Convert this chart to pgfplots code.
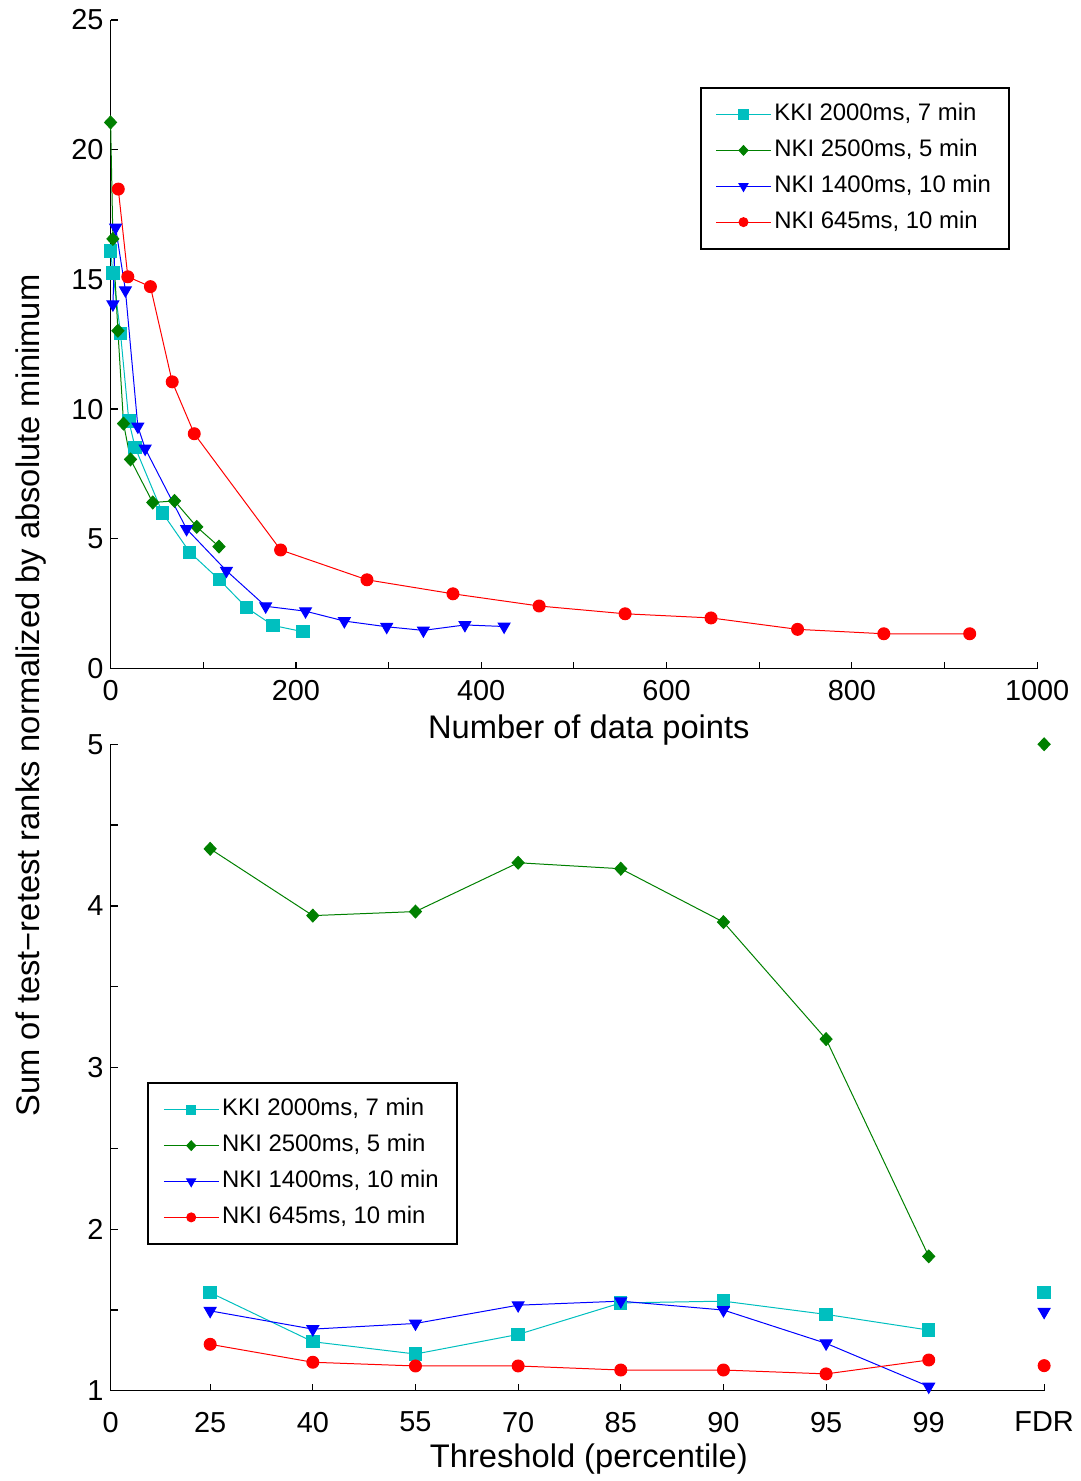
\documentclass[border=0pt]{standalone}
\usepackage{fontspec}
\setmainfont{Liberation Sans}
\usepackage{pgfplots}
\pgfplotsset{compat=1.18}
\definecolor{mcyan}{rgb}{0,0.75,0.75}
\definecolor{mgreen}{rgb}{0,0.5,0}
\definecolor{mblue}{rgb}{0,0,1}
\definecolor{mred}{rgb}{1,0,0}
\pgfplotsset{
  common/.style={
    scale only axis,
    axis x line*=bottom, axis y line*=left,
    axis line style={black, line width=0.6pt, -},
    tick align=inside,
    major tick length=3.5pt,
    tick style={black, line width=0.6pt},
    tick label style={font=\fontsize{14.5}{17}\selectfont},
    /pgf/number format/assume math mode=true,
    clip=false,
    legend style={draw=black, line width=0.9pt, fill=white,
      font=\fontsize{12}{14}\selectfont, inner xsep=7.5pt, inner ysep=6pt,
      row sep=3pt, nodes={text height=9pt, text depth=3pt, inner sep=1.5pt},
      every odd column/.append style={inner xsep=2.5pt}},
    legend cell align=left,
    legend image code/.code={\draw[mark repeat=2, mark phase=2, #1, line width=0.5pt, mark size=0.75*\pgfplotmarksize] plot coordinates {(0pt,0pt) (13.75pt,0pt) (27.5pt,0pt)};},
    every axis plot/.append style={line width=0.5pt},
  },
  kki/.style={color=mcyan, mark=square*, mark size=3.1pt},
  nkiA/.style={color=mgreen, mark=diamond*, mark size=3.2pt, mark options={xscale=1.25}},
  nkiB/.style={color=mblue, mark=triangle*, mark size=3.4pt, mark options={rotate=180}},
  nkiC/.style={color=mred, mark=*, mark size=3pt},
}
\begin{document}
\begin{tikzpicture}
\begin{axis}[common,
  at={(0pt,0pt)}, anchor=south west,
  width=465pt, height=325.5pt,
  xmin=0, xmax=1000, ymin=0, ymax=25,
  xtick={0,100,...,1000},
  xticklabels={0,,200,,400,,600,,800,,1000},
  ytick={0,5,...,25},
  x tick label style={yshift=-2.5pt},
  legend style={at={(0.9705,0.897)}, anchor=north east},
]
\addplot[kki] coordinates {(0,16.1) (2.5,15.25) (10.7,12.92) (19.7,9.54) (26.5,8.52) (56,6.0) (85.5,4.48) (117.5,3.42) (146.6,2.35) (175.3,1.66) (207.5,1.42)};
\addlegendentry{KKI 2000ms, 7 min}
\addplot[nkiA] coordinates {(0,21.05) (2.5,16.56) (7.9,13.02) (14,9.44) (21.5,8.06) (45.5,6.40) (69,6.46) (93,5.46) (117,4.70)};
\addlegendentry{NKI 2500ms, 5 min}
\addplot[nkiB] coordinates {(2.5,14.04) (5.4,17.0) (16,14.58) (29.4,9.33) (37.3,8.48) (82,5.38) (125,3.77) (167.4,2.40) (210.4,2.21) (252.3,1.83) (298,1.61) (337.6,1.47) (382.4,1.68) (424.7,1.62)};
\addlegendentry{NKI 1400ms, 10 min}
\addplot[nkiC] coordinates {(8.3,18.48) (18.6,15.1) (43,14.72) (66.5,11.05) (90.3,9.05) (183.5,4.57) (276.7,3.42) (369.5,2.88) (462.5,2.41) (555.3,2.11) (648,1.95) (741.4,1.51) (834.5,1.34) (927.2,1.34)};
\addlegendentry{NKI 645ms, 10 min}
\end{axis}
\begin{axis}[common,
  at={(0pt,-362.5pt)}, anchor=south west,
  width=468.5pt, height=324.5pt,
  xmin=0.03, xmax=9.124, ymin=1, ymax=5,
  xtick={0.03,1,2,3,4,5,6,7,8,9.124},
  xticklabels={0,25,40,55,70,85,90,95,99,FDR},
  ytick={1,1.5,...,5},
  yticklabels={1,,2,,3,,4,,5},
  x tick label style={yshift=-7pt},
  legend style={at={(0.0395,0.4777)}, anchor=north west},
]
\addplot[kki] coordinates {(1,1.608) (2,1.304) (3,1.228) (4,1.349) (5,1.544) (6,1.555) (7,1.473) (8,1.376)};
\addlegendentry{KKI 2000ms, 7 min}
\addplot[nkiA] coordinates {(1,4.353) (2,3.94) (3,3.965) (4,4.267) (5,4.23) (6,3.90) (7,3.176) (8,1.832)};
\addlegendentry{NKI 2500ms, 5 min}
\addplot[nkiB] coordinates {(1,1.495) (2,1.382) (3,1.417) (4,1.53) (5,1.555) (6,1.50) (7,1.294) (8,1.027)};
\addlegendentry{NKI 1400ms, 10 min}
\addplot[nkiC] coordinates {(1,1.288) (2,1.177) (3,1.154) (4,1.154) (5,1.129) (6,1.129) (7,1.105) (8,1.191)};
\addlegendentry{NKI 645ms, 10 min}
\addplot[kki, forget plot] coordinates {(9.124,1.608)};
\addplot[nkiA, forget plot] coordinates {(9.124,5.0)};
\addplot[nkiB, forget plot] coordinates {(9.124,1.489)};
\addplot[nkiC, forget plot] coordinates {(9.124,1.156)};
\end{axis}
\node[anchor=base, font=\fontsize{16.4}{19}\selectfont] at (240pt,-35pt) {Number of data points};
\node[anchor=base, font=\fontsize{16.4}{19}\selectfont] at (240pt,-401pt) {Threshold (percentile)};
\node[anchor=base, rotate=90, font=\fontsize{16.4}{19}\selectfont] at (-35.5pt,-13.5pt) {Sum of test−retest ranks normalized by absolute minimum};
\useasboundingbox (-55.5pt,-405pt) rectangle (484.5pt,335.5pt);
\end{tikzpicture}
\end{document}
